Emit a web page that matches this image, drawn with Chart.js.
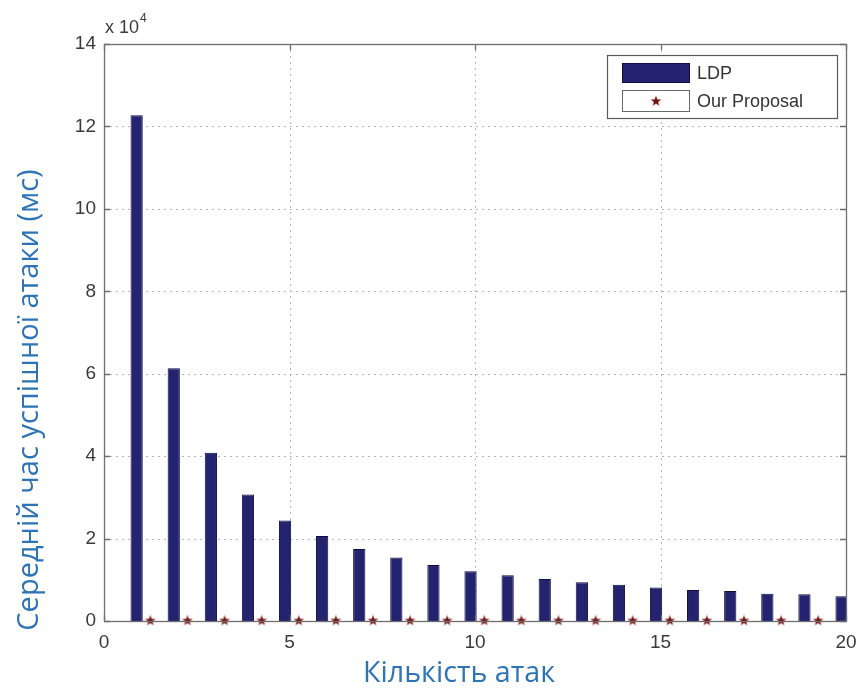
<!DOCTYPE html>
<html><head><meta charset="utf-8">
<script src="https://cdn.jsdelivr.net/npm/chart.js@4.4.0/dist/chart.umd.min.js"></script>
<style>html,body{margin:0;padding:0;background:#fff;}#wrap{width:859px;height:696px;}</style>
</head><body><div id="wrap"><canvas id="c" width="859" height="696"></canvas></div>
<script>
// ---- data ----
const attacks = [1,2,3,4,5,6,7,8,9,10,11,12,13,14,15,16,17,18,19,20];
const ldpTimes = [122700, 61300, 40800, 30700, 24400, 20600, 17500, 15400, 13600, 12100,
                  11100, 10200, 9400, 8800, 8100, 7500, 7300, 6600, 6500, 6000];
const proposalTimes = [150,150,150,150,150,150,150,150,150,150,150,150,150,150,150,150,150,150,150,150];
const xTickValues = [0, 5, 10, 15, 20];
const yTickValues = [0, 2, 4, 6, 8, 10, 12, 14]; // x 10^4
const seriesNames = ['LDP', 'Our Proposal'];
const xTitle = 'Кількість атак';
const yTitle = 'Середній час успішної атаки (мс)';
const yExponent = '4';

// ---- styling ----
const BAR_SHIFT = -0.12, STAR_SHIFT = 0.25, SCALE = 10000;
const barFill = '#23236f', barEdge = '#0e0e40';
const titleBlue = '#2E74B5', tickColor = '#3a3a3a', axisColor = '#6e6e6e';
const tickFont = '19px "Liberation Sans", Arial, sans-serif';

function makeStar() {
  const c = document.createElement('canvas'); c.width = 12; c.height = 12;
  const g = c.getContext('2d');
  g.beginPath();
  for (let i = 0; i < 10; i++) {
    const r = i % 2 === 0 ? 5 : 2.1;
    const a = -Math.PI / 2 + i * Math.PI / 5;
    const px = 6 + r * Math.cos(a), py = 6.3 + r * Math.sin(a);
    i ? g.lineTo(px, py) : g.moveTo(px, py);
  }
  g.closePath();
  g.strokeStyle = 'rgba(230,140,140,0.6)'; g.lineWidth = 1.2; g.stroke();
  g.fillStyle = '#6a1414'; g.fill();
  return c;
}
const starImg = makeStar();

const framePlugin = {
  id: 'frame',
  beforeDatasetsDraw(chart) {
    const {ctx, chartArea: a, scales: {x, y}} = chart;
    ctx.save();
    ctx.strokeStyle = '#b4b4b4'; ctx.lineWidth = 1; ctx.setLineDash([2, 4]);
    xTickValues.forEach(v => {
      const px = Math.round(x.getPixelForValue(v)) + 0.5;
      if (px <= a.left + 1 || px >= a.right - 1) return;
      ctx.beginPath(); ctx.moveTo(px, a.top); ctx.lineTo(px, a.bottom); ctx.stroke();
    });
    yTickValues.forEach(v => {
      const py = Math.round(y.getPixelForValue(v * SCALE)) + 0.5;
      if (py <= a.top + 1 || py >= a.bottom - 1) return;
      ctx.beginPath(); ctx.moveTo(a.left, py); ctx.lineTo(a.right, py); ctx.stroke();
    });
    ctx.restore();
  },
  afterDatasetsDraw(chart) {
    const {ctx, chartArea: a, scales: {x, y}} = chart;
    ctx.save();
    ctx.strokeStyle = axisColor; ctx.lineWidth = 1.3; ctx.setLineDash([]);
    ctx.strokeRect(Math.round(a.left) + 0.5, Math.round(a.top) + 0.5,
                   Math.round(a.right - a.left), Math.round(a.bottom - a.top));
    const L = 6;
    xTickValues.forEach(v => {
      const px = Math.round(x.getPixelForValue(v)) + 0.5;
      ctx.beginPath();
      ctx.moveTo(px, a.bottom); ctx.lineTo(px, a.bottom - L);
      ctx.moveTo(px, a.top); ctx.lineTo(px, a.top + L);
      ctx.stroke();
    });
    yTickValues.forEach(v => {
      const py = Math.round(y.getPixelForValue(v * SCALE)) + 0.5;
      ctx.beginPath();
      ctx.moveTo(a.left, py); ctx.lineTo(a.left + L, py);
      ctx.moveTo(a.right, py); ctx.lineTo(a.right - L, py);
      ctx.stroke();
    });
    ctx.restore();
  },
  afterDraw(chart) {
    const {ctx, chartArea: a} = chart;
    ctx.save();
    ctx.fillStyle = tickColor; ctx.textBaseline = 'alphabetic'; ctx.textAlign = 'left';
    ctx.font = '18px "Liberation Sans", Arial, sans-serif';
    ctx.fillText('x 10', a.left + 1, a.top - 11);
    const w = ctx.measureText('x 10').width;
    ctx.font = '12px "Liberation Sans", Arial, sans-serif';
    ctx.fillText(yExponent, a.left + 2 + w, a.top - 22);

    ctx.fillStyle = titleBlue; ctx.textAlign = 'center'; ctx.textBaseline = 'middle';
    const fam = '"Open Sans", "Noto Sans", sans-serif';
    ctx.font = '24px ' + fam;
    let s = 24 * 192 / ctx.measureText(xTitle).width;
    ctx.font = s.toFixed(1) + 'px ' + fam;
    ctx.fillText(xTitle, 459, 674);
    ctx.font = '24px ' + fam;
    s = 24 * 462 / ctx.measureText(yTitle).width;
    ctx.font = s.toFixed(1) + 'px ' + fam;
    ctx.translate(30, 400); ctx.rotate(-Math.PI / 2);
    ctx.fillText(yTitle, 0, 0);
    ctx.setTransform(1, 0, 0, 1, 0, 0);

    const lx = 607.5, ly = 55.5, lw = 230, lh = 63;
    ctx.fillStyle = '#fff'; ctx.fillRect(lx, ly, lw, lh);
    ctx.strokeStyle = '#5a5a5a'; ctx.lineWidth = 1.2; ctx.strokeRect(lx, ly, lw, lh);
    ctx.fillStyle = barFill; ctx.fillRect(622, 63, 68, 20);
    ctx.strokeStyle = barEdge; ctx.lineWidth = 1; ctx.strokeRect(622.5, 63.5, 67, 19);
    ctx.strokeStyle = '#6a6a6a'; ctx.strokeRect(622.5, 90.5, 67, 21);
    ctx.drawImage(starImg, 656 - 6, 101 - 6);
    ctx.fillStyle = '#333'; ctx.textAlign = 'left'; ctx.textBaseline = 'middle';
    ctx.font = '18px "Liberation Sans", Arial, sans-serif';
    ctx.fillText(seriesNames[0], 697, 74);
    ctx.fillText(seriesNames[1], 697, 102);
    ctx.restore();
  }
};

new Chart(document.getElementById('c'), {
  data: {
    datasets: [
      {
        type: 'bar', label: seriesNames[0],
        data: attacks.map((n, i) => ({x: n + BAR_SHIFT, y: ldpTimes[i]})),
        backgroundColor: barFill, borderColor: barEdge, borderWidth: 1,
        barPercentage: 0.33, categoryPercentage: 1, grouped: false, order: 2
      },
      {
        type: 'scatter', label: seriesNames[1],
        data: attacks.map((n, i) => ({x: n + STAR_SHIFT, y: proposalTimes[i]})),
        pointStyle: starImg, pointRadius: 5, showLine: false, clip: false, order: 1
      }
    ]
  },
  options: {
    responsive: false, animation: false, devicePixelRatio: 1,
    layout: {padding: {left: 0, right: 13, top: 44, bottom: 0}},
    plugins: {legend: {display: false}, tooltip: {enabled: false}},
    scales: {
      x: {
        type: 'linear', min: 0, max: 20, offset: false,
        afterBuildTicks: s => { s.ticks = xTickValues.map(v => ({value: v})); },
        afterFit: s => { s.height = 75; s.paddingLeft = 0; s.paddingRight = 0; },
        ticks: {color: tickColor, font: {family: '"Liberation Sans", Arial, sans-serif', size: 19}, padding: 10, maxRotation: 0},
        grid: {display: false, drawTicks: false, offset: false}, border: {display: false}
      },
      y: {
        type: 'linear', min: 0, max: 140000,
        afterBuildTicks: s => { s.ticks = yTickValues.map(v => ({value: v * SCALE})); },
        afterFit: s => { s.width = 104; s.paddingTop = 0; s.paddingBottom = 0; },
        ticks: {color: tickColor, font: {family: '"Liberation Sans", Arial, sans-serif', size: 19}, padding: 8,
                callback: v => String(v / SCALE)},
        grid: {display: false, drawTicks: false}, border: {display: false}
      }
    }
  },
  plugins: [framePlugin]
});
</script></body></html>
